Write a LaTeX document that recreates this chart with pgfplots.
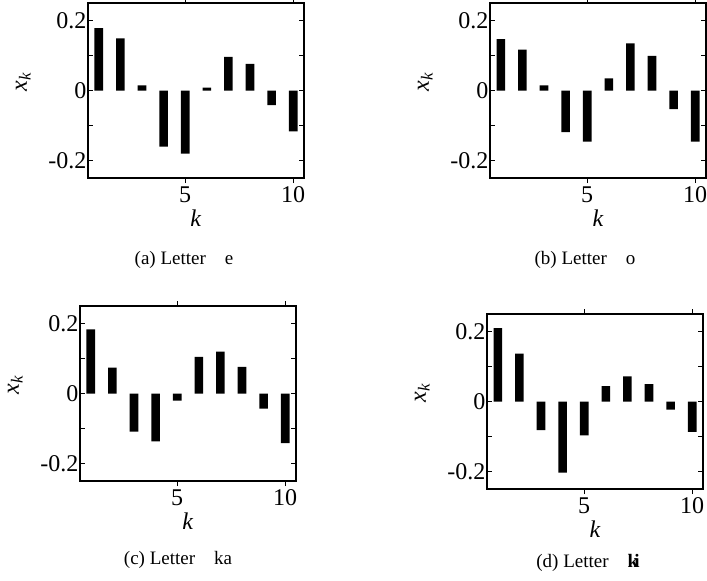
\documentclass[border=0pt]{standalone}
\usepackage{fontspec}
\setmainfont{Liberation Serif}
\usepackage{amsmath}
\usepackage{pgfplots}
\pgfplotsset{compat=1.18}

\pgfplotsset{
  kplot/.style={
    scale only axis, width=216pt, height=175pt,
    xmin=0.5, xmax=10.5, ymin=-0.25, ymax=0.25,
    xtick={5,10}, ytick={-0.2,0,0.2}, yticklabels={-0.2,0,0.2},
    minor ytick={-0.1,0.1},
    tick align=inside, major tick length=5pt, minor tick length=5pt,
    tick style={black, line width=0.8pt},
    axis line style={line width=1.6pt},
    ticklabel style={font=\fontsize{24}{27}\selectfont},
    /pgf/number format/assume math mode=true,
    yticklabel style={inner xsep=1.5pt},
    xlabel={\textit{k}}, ylabel={$\textit{x}_{\textit{k}}$},
    label style={font=\fontsize{24}{28}\selectfont},
    xlabel style={at={(axis description cs:0.5,-0.23)}, anchor=center},
    ylabel style={at={(axis description cs:-0.3,0.55)}, anchor=center},
    ybar, bar width=8.6pt,
    cycle list={{fill=black, draw=none}},
  }
}

\begin{document}
\begin{tikzpicture}
\useasboundingbox (0,0) rectangle (707pt,-581pt);

\begin{axis}[kplot, at={(88pt,-178pt)}, anchor=south west]
\addplot[fill=black, draw=none] coordinates {(1,0.178) (2,0.149) (3,0.015) (4,-0.160) (5,-0.180) (6,0.008) (7,0.096) (8,0.076) (9,-0.042) (10,-0.117)};
\end{axis}

\begin{axis}[kplot, at={(490pt,-178pt)}, anchor=south west]
\addplot[fill=black, draw=none] coordinates {(1,0.147) (2,0.117) (3,0.015) (4,-0.119) (5,-0.146) (6,0.035) (7,0.135) (8,0.099) (9,-0.053) (10,-0.146)};
\end{axis}

\begin{axis}[kplot, at={(80pt,-481pt)}, anchor=south west]
\addplot[fill=black, draw=none] coordinates {(1,0.183) (2,0.074) (3,-0.109) (4,-0.137) (5,-0.020) (6,0.105) (7,0.120) (8,0.076) (9,-0.043) (10,-0.142)};
\end{axis}

\begin{axis}[kplot, at={(487pt,-489pt)}, anchor=south west]
\addplot[fill=black, draw=none] coordinates {(1,0.210) (2,0.137) (3,-0.082) (4,-0.203) (5,-0.097) (6,0.044) (7,0.072) (8,0.050) (9,-0.023) (10,-0.087)};
\end{axis}

\node[font=\fontsize{19}{22}\selectfont, anchor=center] at (184pt,-260pt) {(a) Letter\hspace{0.75em} e};
\node[font=\fontsize{19}{22}\selectfont, anchor=center] at (585pt,-260pt) {(b) Letter\hspace{0.75em} o};
\node[font=\fontsize{19}{22}\selectfont, anchor=center] at (178pt,-560pt) {(c) Letter\hspace{0.75em} ka};
\node[font=\fontsize{19}{22}\selectfont, anchor=center] at (588pt,-563pt) {(d) Letter\hspace{0.75em} \textbf{k\kern-0.2em i}};
\end{tikzpicture}
\end{document}
